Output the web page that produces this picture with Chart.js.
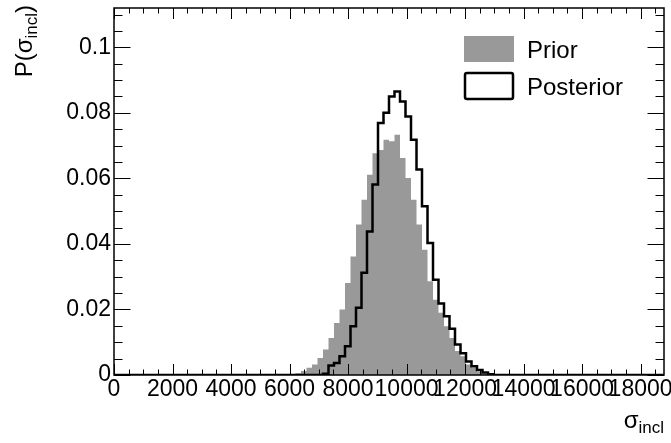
<!DOCTYPE html>
<html>
<head>
<meta charset="utf-8">
<script src="https://cdn.jsdelivr.net/npm/chart.js@4.4.1/dist/chart.umd.min.js"></script>
<style>
  body { margin: 0; background: #fff; }
  #contenedor { width: 671px; height: 443px; }
</style>
</head>
<body>
<div id="contenedor"><canvas id="grafico" width="671" height="443"></canvas></div>
<script>
// Histograma: 100 bins entre 0 y 18800
const xMin = 0;
const xMax = 18800;
const nBins = 100;
const yMax = 0.112;

const etiquetasX = [0, 2000, 4000, 6000, 8000, 10000, 12000, 14000, 16000, 18000];
const etiquetasY = [0, 0.02, 0.04, 0.06, 0.08, 0.1];

// Prior (relleno gris)
const valoresPrior = [
  0, 0, 0, 0, 0, 0, 0, 0, 0, 0,
  0, 0, 0, 0, 0, 0, 0, 0, 0, 0,
  0, 0, 0, 0, 0, 0, 0, 0, 0, 0,
  0, 0, 0.0002, 0.0005, 0.0012, 0.0022, 0.0032, 0.0052, 0.0078, 0.0113,
  0.0159, 0.0200, 0.0281, 0.0362, 0.0459, 0.0535, 0.0611, 0.0677, 0.0687, 0.0718,
  0.0713, 0.0733, 0.0662, 0.0601, 0.0535, 0.0459, 0.0382, 0.0286, 0.0230, 0.0190,
  0.0149, 0.0113, 0.0073, 0.0057, 0.0032, 0.0022, 0.0010, 0.0004, 0, 0,
  0, 0, 0, 0, 0, 0, 0, 0, 0, 0,
  0, 0, 0, 0, 0, 0, 0, 0, 0, 0,
  0, 0, 0, 0, 0, 0, 0, 0, 0, 0
];

// Posterior (linea negra)
const valoresPosterior = [
  0, 0, 0, 0, 0, 0, 0, 0, 0, 0,
  0, 0, 0, 0, 0, 0, 0, 0, 0, 0,
  0, 0, 0, 0, 0, 0, 0, 0, 0, 0,
  0, 0, 0, 0, 0, 0, 0, 0, 0.0004, 0.0029,
  0.0037, 0.0057, 0.0088, 0.0149, 0.0205, 0.0312, 0.0438, 0.0581, 0.0769, 0.0800,
  0.0850, 0.0865, 0.0835, 0.0789, 0.0718, 0.0627, 0.0515, 0.0403, 0.0291, 0.0218,
  0.0179, 0.0141, 0.0093, 0.0066, 0.0041, 0.0027, 0.0015, 0.0008, 0.0002, 0,
  0, 0, 0, 0, 0, 0, 0, 0, 0, 0,
  0, 0, 0, 0, 0, 0, 0, 0, 0, 0,
  0, 0, 0, 0, 0, 0, 0, 0, 0, 0
];

const fuente = '"Liberation Sans", Arial, Helvetica, sans-serif';
const grisPrior = '#999999';

// Convierte los valores de los bins en puntos escalonados (borde izquierdo de cada bin)
function puntosHistograma(valores) {
  const ancho = (xMax - xMin) / nBins;
  const puntos = valores.map((v, i) => ({ x: xMin + i * ancho, y: v }));
  puntos.push({ x: xMax, y: valores[valores.length - 1] });
  return puntos;
}

// Texto con subindice, p.ej. sigma_incl
function anchoPartes(ctx, partes) {
  let w = 0;
  partes.forEach(p => { ctx.font = p.size + 'px ' + fuente; w += ctx.measureText(p.text).width; });
  return w;
}
function dibujarPartes(ctx, partes, x, y) {
  let cx = x;
  partes.forEach(p => {
    ctx.font = p.size + 'px ' + fuente;
    ctx.fillText(p.text, cx, y + (p.dy || 0));
    cx += ctx.measureText(p.text).width;
  });
}

// Marco estilo ROOT con marcas hacia dentro, titulos y leyenda
const marcoRoot = {
  id: 'marcoRoot',
  afterDraw(chart) {
    const ctx = chart.ctx;
    const a = chart.chartArea;
    const sx = chart.scales.x;
    const sy = chart.scales.y;
    ctx.save();
    ctx.strokeStyle = '#000';
    ctx.lineWidth = 1;
    ctx.beginPath();
    // marcas eje x (abajo y arriba)
    for (let v = 0; v <= xMax; v += 500) {
      const px = Math.round(sx.getPixelForValue(v)) + 0.5;
      const len = (v % 2000 === 0) ? 11 : 5.5;
      ctx.moveTo(px, a.bottom); ctx.lineTo(px, a.bottom - len);
      ctx.moveTo(px, a.top); ctx.lineTo(px, a.top + len);
    }
    // marcas eje y (izquierda y derecha)
    for (let k = 0; k * 0.005 <= yMax + 1e-9; k++) {
      const py = Math.round(sy.getPixelForValue(k * 0.005)) + 0.5;
      const len = (k % 4 === 0) ? 16.5 : 8.5;
      ctx.moveTo(a.left, py); ctx.lineTo(a.left + len, py);
      ctx.moveTo(a.right, py); ctx.lineTo(a.right - len, py);
    }
    ctx.stroke();
    ctx.lineWidth = 1.5;
    ctx.strokeRect(a.left, a.top, a.right - a.left, a.bottom - a.top);

    ctx.fillStyle = '#000';
    ctx.textBaseline = 'alphabetic';
    // titulo eje y
    const tituloY = [
      { text: 'P(', size: 24 },
      { text: '\u03C3', size: 24 },
      { text: 'incl', size: 17, dy: 5 },
      { text: ')', size: 24 }
    ];
    const wy = anchoPartes(ctx, tituloY);
    ctx.save();
    ctx.translate(32, 5);
    ctx.rotate(-Math.PI / 2);
    dibujarPartes(ctx, tituloY, -wy, 0);
    ctx.restore();
    // titulo eje x
    const tituloX = [
      { text: '\u03C3', size: 24 },
      { text: 'incl', size: 17, dy: 5 }
    ];
    const wx = anchoPartes(ctx, tituloX);
    dibujarPartes(ctx, tituloX, a.right - wx, 428);

    // leyenda
    ctx.fillStyle = grisPrior;
    ctx.fillRect(464, 36, 50, 26);
    ctx.strokeStyle = '#000';
    ctx.lineWidth = 2.5;
    ctx.beginPath();
    if (ctx.roundRect) ctx.roundRect(465, 73, 48, 26, 2); else ctx.rect(465, 73, 48, 26);
    ctx.stroke();
    ctx.fillStyle = '#000';
    ctx.font = '24px ' + fuente;
    ctx.fillText('Prior', 527, 58);
    ctx.fillText('Posterior', 527, 95);
    ctx.restore();
  }
};

function crearGrafico() {
  const ctx = document.getElementById('grafico').getContext('2d');
  new Chart(ctx, {
    type: 'line',
    data: {
      datasets: [
        {
          label: 'Posterior',
          data: puntosHistograma(valoresPosterior),
          stepped: true,
          fill: false,
          borderColor: '#000',
          borderWidth: 2.5,
          pointRadius: 0,
          order: 1
        },
        {
          label: 'Prior',
          data: puntosHistograma(valoresPrior),
          stepped: true,
          fill: 'origin',
          backgroundColor: grisPrior,
          borderColor: grisPrior,
          borderWidth: 0,
          pointRadius: 0,
          order: 2
        }
      ]
    },
    options: {
      responsive: false,
      animation: false,
      devicePixelRatio: 1,
      layout: { padding: { left: 0, right: 7, top: 8, bottom: 0 } },
      plugins: { legend: { display: false }, tooltip: { enabled: false } },
      scales: {
        x: {
          type: 'linear',
          min: xMin,
          max: xMax,
          grid: { display: false, drawTicks: false },
          border: { display: false },
          afterBuildTicks: s => { s.ticks = etiquetasX.map(v => ({ value: v })); },
          afterFit: s => { s.height = 68; s.paddingLeft = 0; s.paddingRight = 0; },
          ticks: {
            autoSkip: false,
            maxRotation: 0,
            padding: 1,
            color: '#000',
            font: { family: fuente, size: 23 },
            callback: v => String(v)
          }
        },
        y: {
          min: 0,
          max: yMax,
          grid: { display: false, drawTicks: false },
          border: { display: false },
          afterBuildTicks: s => { s.ticks = etiquetasY.map(v => ({ value: v })); },
          afterFit: s => { s.width = 114; s.paddingTop = 0; s.paddingBottom = 0; },
          ticks: {
            padding: 3,
            color: '#000',
            font: { family: fuente, size: 23 },
            callback: v => String(+v.toFixed(2))
          }
        }
      }
    },
    plugins: [marcoRoot]
  });
}

document.addEventListener('DOMContentLoaded', function () {
  crearGrafico();
});
</script>
</body>
</html>
